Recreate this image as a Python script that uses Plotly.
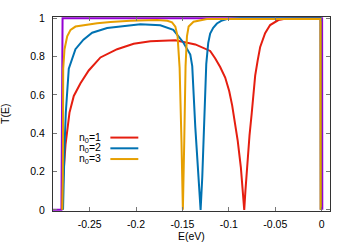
import plotly.graph_objects as go

# ---- data ----
E_ref = [-0.2895, -0.2804, -0.2792, 0.0004, 0.0006]
T_ref = [0, 0, 1, 1, 0]

E_n1 = [-0.2796, -0.2785, -0.2760, -0.2717, -0.2671, -0.2599, -0.2510, -0.2384,
        -0.2204, -0.2026, -0.1846, -0.1577, -0.1362, -0.1255, -0.1202, -0.1147,
        -0.1094, -0.1040, -0.0997, -0.0965, -0.0932, -0.0905, -0.0871, -0.0849,
        -0.0835, -0.0822, -0.0806, -0.0778, -0.0755, -0.0739, -0.0717, -0.0690,
        -0.0663, -0.0610, -0.0556, -0.0467, -0.0395, -0.0234, -0.0012, -0.0010]
T_n1 = [0.0, 0.169, 0.340, 0.508, 0.594, 0.660, 0.727, 0.795,
        0.838, 0.866, 0.880, 0.885, 0.863, 0.838, 0.829, 0.790,
        0.745, 0.690, 0.620, 0.545, 0.450, 0.360, 0.220, 0.100,
        0.0, 0.100, 0.220, 0.389, 0.500, 0.600, 0.700, 0.780,
        0.850, 0.922, 0.964, 0.990, 0.997, 1.0, 1.0, 0.0]

E_n2 = [-0.2787, -0.2781, -0.2770, -0.2757, -0.2739, -0.2725, -0.2653, -0.2567,
        -0.2473, -0.2312, -0.1954, -0.1739, -0.1599, -0.1491, -0.1416, -0.1395,
        -0.1362, -0.1327, -0.1305, -0.1287, -0.1271, -0.1244, -0.1223, -0.1202,
        -0.1169, -0.1129, -0.1083, -0.1022, -0.0878, -0.0012, -0.0010]
T_n2 = [0.0, 0.169, 0.340, 0.508, 0.660, 0.736, 0.838, 0.888,
        0.924, 0.949, 0.968, 0.963, 0.939, 0.873, 0.810, 0.750,
        0.430, 0.170, 0.0, 0.170, 0.430, 0.760, 0.870, 0.920,
        0.950, 0.972, 0.986, 0.995, 1.0, 1.0, 0.0]

E_n3 = [-0.2795, -0.2789, -0.2785, -0.2771, -0.2742, -0.2706, -0.2653, -0.2563,
        -0.2419, -0.2276, -0.2061, -0.1774, -0.1663, -0.1613, -0.1577, -0.1553,
        -0.1531, -0.1511, -0.1496, -0.1481, -0.1467, -0.1452, -0.1434, -0.1381,
        -0.1237, -0.0878, -0.0013, -0.0011]
T_n3 = [0.0, 0.169, 0.736, 0.838, 0.905, 0.939, 0.956, 0.964,
        0.973, 0.980, 0.987, 0.990, 0.986, 0.978, 0.956, 0.905,
        0.740, 0.360, 0.0, 0.360, 0.750, 0.905, 0.956, 0.981,
        0.995, 0.995, 0.995, 0.0]

x_tick_vals = [-0.25, -0.2, -0.15, -0.1, -0.05, 0]
x_tick_text = ["-0.25", "-0.2", "-0.15", "-0.1", "-0.05", "0"]
y_tick_vals = [0, 0.2, 0.4, 0.6, 0.8, 1]
y_tick_text = ["0", "0.2", "0.4", "0.6", "0.8", "1"]

legend_labels = ["n<sub>0</sub>=1", "n<sub>0</sub>=2", "n<sub>0</sub>=3"]

C_PURPLE = "#9400d3"
C_RED = "#e51e10"
C_BLUE = "#0072b2"
C_ORANGE = "#e69f00"

fig = go.Figure()
fig.add_trace(go.Scatter(x=E_ref, y=T_ref, mode="lines", name="ref",
                         line=dict(color=C_PURPLE, width=2)))
series = [(E_n1, T_n1, C_RED), (E_n2, T_n2, C_BLUE), (E_n3, T_n3, C_ORANGE)]
for (ex, ty, col), lab in zip(series, legend_labels):
    fig.add_trace(go.Scatter(x=ex, y=ty, mode="lines", name=lab,
                             line=dict(color=col, width=2)))

# legend drawn gnuplot-style: text then sample line
leg_y = [0.377, 0.321, 0.265]
for (ex, ty, col), lab, yy in zip(series, legend_labels, leg_y):
    fig.add_annotation(x=-0.2352, y=yy, xref="x", yref="y", text=lab,
                       showarrow=False, xanchor="right", yanchor="middle",
                       font=dict(size=10.5, color="black"))
    fig.add_shape(type="line", x0=-0.2277, x1=-0.1976, y0=yy, y1=yy,
                  xref="x", yref="y", line=dict(color=col, width=2))

fig.add_annotation(x=-0.1733, y=0.5, xref="paper", yref="paper", text="T(E)",
                   textangle=-90, showarrow=False, xanchor="center", yanchor="middle",
                   font=dict(size=10.5, color="black"))
fig.add_annotation(x=0.5, y=-0.1307, xref="paper", yref="paper", text="E(eV)",
                   showarrow=False, xanchor="center", yanchor="middle",
                   font=dict(size=10.5, color="black"))

axis_common = dict(ticks="inside", ticklen=4, tickcolor="#777", showline=True,
                   linecolor="#333", linewidth=1, mirror="ticks", showgrid=False,
                   zeroline=False)
fig.update_xaxes(range=[-0.2895, 0.0089], tickvals=x_tick_vals, ticktext=x_tick_text,
                 ticklabelstandoff=3, **axis_common)
fig.update_yaxes(range=[-0.006, 1.006], tickvals=y_tick_vals, ticktext=y_tick_text,
                 ticklabelstandoff=5, **axis_common)

fig.update_layout(width=350, height=245, showlegend=False,
                  margin=dict(l=53, r=20, t=12, b=34),
                  plot_bgcolor="white", paper_bgcolor="white",
                  font=dict(family="Liberation Sans, Arial, sans-serif", size=10.5, color="black"))

fig.write_html("out.html", config={"displayModeBar": False, "staticPlot": True},
               post_script="document.body.style.margin='0';document.body.style.padding='0';")
